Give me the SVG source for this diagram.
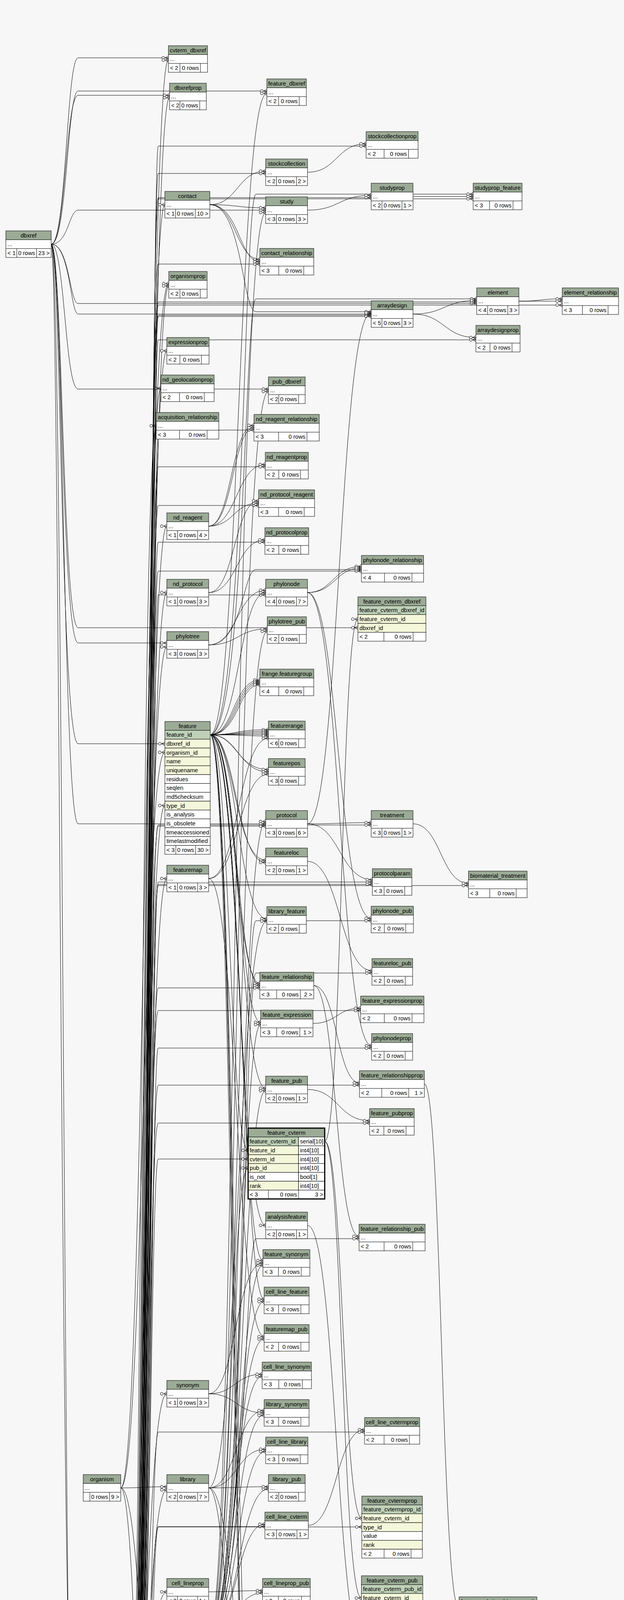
<svg xmlns="http://www.w3.org/2000/svg" width="1597" height="7985" viewBox="0 0 1597 7985">
<style>
text{font-family:"Liberation Sans",Arial,Helvetica,sans-serif;font-size:14.67px;fill:#000}
.c{text-anchor:middle}
.r{text-anchor:end}
.h{fill:#9bab96;stroke:#000}
.w{fill:#fff;stroke:#000}
.k{fill:#bed1b8;stroke:#000}
.i{fill:#f4f7da;stroke:#000}
.l{fill:none;stroke:#000}
#edges path{fill:none;stroke:#000;stroke-width:1;marker-end:url(#cf)}
</style>
<defs>
<marker id="cf" markerWidth="20" markerHeight="14" refX="19" refY="7" orient="auto" markerUnits="userSpaceOnUse" overflow="visible"><path d="M11 7L19 2M11 7L19 7M11 7L19 12" stroke="#000" fill="none"/><circle cx="6" cy="7" r="3.6" fill="#f7f7f7" stroke="#000"/></marker>
<marker id="ct" markerWidth="20" markerHeight="14" refX="19" refY="7" orient="auto" markerUnits="userSpaceOnUse" overflow="visible"><path d="M13 2L13 12" stroke="#000" stroke-width="2"/><circle cx="6" cy="7" r="3.6" fill="#f7f7f7" stroke="#000"/></marker>
</defs>
<rect width="1597" height="7985" fill="#f7f7f7"/>
<g id="edges">
<path d="M131 625C163 625 163 4995 196 4995" style="marker-end:url(#ct)"/>
<path d="M131 625C170 625 170 148 200 148L431 148"/>
<path d="M131 625C168 625 168 244 200 244L434 244"/>
<path d="M131 625C172 625 172 233 200 233L683 233"/>
<path d="M131 625C176 625 176 538 200 538L680 538"/>
<path d="M131 625C178 625 178 777 200 777L1220 777"/>
<path d="M131 625C180 625 180 804 200 804L950 804"/>
<path d="M131 625C166 625 166 996 200 996L687 996"/>
<path d="M131 625C160 625 160 1607 200 1607L916 1607"/>
<path d="M131 625C158 625 158 1646 200 1646L427 1646"/>
<path d="M131 625C156 625 156 1904 200 1904L422 1904"/>
<path d="M131 625C162 625 162 2109 200 2109L680 2109"/>
<path d="M131 625C154 625 154 4762 200 4762L427 4762"/>
<path d="M121 7803C158 7803 158 4927 196 4927"/>
<path d="M121 7803L433 7803"/>
<path d="M121 7803C280 7803 290 7896 433 7896"/>
<path d="M309 3809C366 3809 366 1926 422 1926"/>
<path d="M309 3809C370 3809 370 726 432 726"/>
<path d="M309 3809C370 3809 370 3806 427 3806"/>
<path d="M309 3809C368 3809 368 4768 427 4768"/>
<path d="M309 3809C374 3809 374 6748 405 6748L654 6748"/>
<path d="M326 4904C372 4904 372 154 431 154"/>
<path d="M326 4904C374 4904 374 250 434 250"/>
<path d="M326 4904C368 4904 368 524 422 524"/>
<path d="M326 4904C376 4904 376 732 432 732"/>
<path d="M326 4904C370 4904 370 898 427 898"/>
<path d="M326 4904C364 4904 364 994 412 994"/>
<path d="M326 4904C360 4904 360 1090 400 1090"/>
<path d="M326 4904C370 4904 370 1347 427 1347"/>
<path d="M326 4904C372 4904 372 1517 427 1517"/>
<path d="M326 4904C366 4904 366 1656 427 1656"/>
<path d="M326 4904C368 4904 368 2062 422 2062"/>
<path d="M326 4904C374 4904 374 2249 427 2249"/>
<path d="M326 4904C370 4904 370 3568 427 3568"/>
<path d="M326 4904C372 4904 372 3814 427 3814"/>
<path d="M326 4904C368 4904 368 4075 427 4075"/>
<path d="M326 4904C366 4904 366 4398 422 4398"/>
<path d="M326 4904C362 4904 362 4598 413 4598"/>
<path d="M326 4904C370 4904 370 4774 427 4774"/>
<path d="M326 4904C378 4904 378 4937 433 4937"/>
<path d="M326 4904C372 4904 372 5359 427 5359"/>
<path d="M326 4904C356 4904 356 5528 392 5528"/>
<path d="M326 4904C366 4904 366 5624 418 5624"/>
<path d="M326 4904C372 4904 372 5757 427 5757"/>
<path d="M326 4904C364 4904 364 5927 420 5927"/>
<path d="M326 4904C360 4904 360 6054 427 6054"/>
<path d="M326 4904C364 4904 364 6058 427 6058"/>
<path d="M326 4904C368 4904 368 6062 427 6062"/>
<path d="M326 4904C372 4904 372 6066 427 6066"/>
<path d="M326 4904C366 4904 366 6156 422 6156"/>
<path d="M326 4904C370 4904 370 6325 428 6325"/>
<path d="M326 4904C374 4904 374 6421 433 6421"/>
<path d="M326 4904C376 4904 376 6517 433 6517"/>
<path d="M326 4904C358 4904 358 6613 398 6613"/>
<path d="M326 4904C372 4904 372 6710 427 6710"/>
<path d="M326 4904C362 4904 362 6805 408 6805"/>
<path d="M326 4904C378 4904 378 6901 433 6901"/>
<path d="M326 4904C378 4904 378 6997 433 6997"/>
<path d="M326 4904C360 4904 360 7088 413 7088"/>
<path d="M326 4904C364 4904 364 7093 413 7093"/>
<path d="M326 4904C368 4904 368 7098 413 7098"/>
<path d="M326 4904C374 4904 374 7186 433 7186"/>
<path d="M326 4904C378 4904 378 7192 433 7192"/>
<path d="M326 4904C370 4904 370 7282 425 7282"/>
<path d="M326 4904C374 4904 374 7288 425 7288"/>
<path d="M326 4904C356 4904 356 7381 390 7381"/>
<path d="M326 4904C362 4904 362 7478 411 7478"/>
<path d="M326 4904C370 4904 370 7573 427 7573"/>
<path d="M326 4904C364 4904 364 7704 414 7704"/>
<path d="M326 4904C368 4904 368 7710 414 7710"/>
<path d="M326 4904C372 4904 372 7797 433 7797"/>
<path d="M326 4904C376 4904 376 7807 433 7807"/>
<path d="M326 4904C380 4904 380 7811 433 7811"/>
<path d="M326 4904C378 4904 378 7902 433 7902"/>
<path d="M326 4904C384 4904 384 444 405 444L680 444"/>
<path d="M326 4904C380 4904 380 676 405 676L665 676"/>
<path d="M326 4904C388 4904 388 1101 405 1101L650 1101"/>
<path d="M326 4904C376 4904 376 1195 405 1195L679 1195"/>
<path d="M326 4904C380 4904 380 1294 405 1294L662 1294"/>
<path d="M326 4904C384 4904 384 1388 405 1388L678 1388"/>
<path d="M326 4904C388 4904 388 1523 405 1523L680 1523"/>
<path d="M326 4904C376 4904 376 2115 405 2115L680 2115"/>
<path d="M326 4904C380 4904 380 2529 405 2529L665 2529"/>
<path d="M326 4904C384 4904 384 2967 405 2967L635 2967"/>
<path d="M326 4904C388 4904 388 3908 405 3908L678 3908"/>
<path d="M326 4904C376 4904 376 4622 405 4622L680 4622"/>
<path d="M326 4904C380 4904 380 4987 405 4987L671 4987"/>
<path d="M326 4904C384 4904 384 5080 405 5080L680 5080"/>
<path d="M326 4904C388 4904 388 5176 405 5176L680 5176"/>
<path d="M326 4904C376 4904 376 5409 405 5409L673 5409"/>
<path d="M326 4904C380 4904 380 5578 405 5578L684 5578"/>
<path d="M326 4904C384 4904 384 5770 405 5770L676 5770"/>
<path d="M326 4904C388 4904 388 5866 405 5866L680 5866"/>
<path d="M326 4904C376 4904 376 5959 405 5959L687 5959"/>
<path d="M326 4904C380 4904 380 6229 405 6229L660 6229"/>
<path d="M326 4904C384 4904 384 6321 405 6321L666 6321"/>
<path d="M326 4904C388 4904 388 6420 405 6420L687 6420"/>
<path d="M326 4904C376 4904 376 6513 405 6513L685 6513"/>
<path d="M326 4904C380 4904 380 6612 405 6612L681 6612"/>
<path d="M326 4904C384 4904 384 6839 405 6839L669 6839"/>
<path d="M326 4904C388 4904 388 7676 405 7676L654 7676"/>
<path d="M326 4904C386 4904 386 374 405 374L937 374"/>
<path d="M326 4904C382 4904 382 506 405 506L950 506"/>
<path d="M326 4904C378 4904 378 807 405 807L950 807"/>
<path d="M326 4904C386 4904 386 810 405 810L950 810"/>
<path d="M326 4904C382 4904 382 1462 405 1462L925 1462"/>
<path d="M326 4904C378 4904 378 2112 405 2112L950 2112"/>
<path d="M326 4904C386 4904 386 2258 405 2258L953 2258"/>
<path d="M326 4904C382 4904 382 2264 405 2264L953 2264"/>
<path d="M326 4904C378 4904 378 2587 405 2587L923 2587"/>
<path d="M326 4904C386 4904 386 2683 405 2683L951 2683"/>
<path d="M326 4904C382 4904 382 2778 405 2778L920 2778"/>
<path d="M326 4904C378 4904 378 2875 405 2875L946 2875"/>
<path d="M326 4904C386 4904 386 3666 405 3666L933 3666"/>
<path d="M326 4904C382 4904 382 3909 405 3909L926 3909"/>
<path d="M326 4904C378 4904 378 4247 405 4247L935 4247"/>
<path d="M326 4904C386 4904 386 5239 405 5239L915 5239"/>
<path d="M326 4904C382 4904 382 6011 405 6011L942 6011"/>
<path d="M326 4904C378 4904 378 6451 405 6451L915 6451"/>
<path d="M326 4904C386 4904 386 6746 405 6746L898 6746"/>
<path d="M326 4904C382 4904 382 509 405 509L1211 509"/>
<path d="M326 4904C378 4904 378 773 405 773L1220 773"/>
<path d="M326 4904C386 4904 386 870 405 870L1218 870"/>
<path d="M326 4904C382 4904 382 2267 405 2267L1199 2267"/>
<path d="M326 4904C378 4904 378 781 405 781L1439 781"/>
<path d="M538 1881C610 1881 610 239 683 239"/>
<path d="M538 1881C612 1881 612 1517 680 1517"/>
<path d="M538 1881C598 1881 598 1741 665 1741"/>
<path d="M538 1881C602 1881 602 1745 665 1745"/>
<path d="M538 1881C606 1881 606 1749 665 1749"/>
<path d="M538 1881C610 1881 610 1753 665 1753"/>
<path d="M538 1881C604 1881 604 1868 687 1868"/>
<path d="M538 1881C608 1881 608 1872 687 1872"/>
<path d="M538 1881C612 1881 612 1876 687 1876"/>
<path d="M538 1881C616 1881 616 1880 687 1880"/>
<path d="M538 1881C620 1881 620 1884 687 1884"/>
<path d="M538 1881C606 1881 606 1970 687 1970"/>
<path d="M538 1881C610 1881 610 1976 687 1976"/>
<path d="M538 1881C600 1881 600 2202 680 2202"/>
<path d="M538 1881C604 1881 604 2208 680 2208"/>
<path d="M538 1881C608 1881 608 2352 683 2352"/>
<path d="M538 1881C602 1881 602 2517 665 2517"/>
<path d="M538 1881C606 1881 606 2523 665 2523"/>
<path d="M538 1881C610 1881 610 2617 667 2617"/>
<path d="M538 1881C614 1881 614 2786 680 2786"/>
<path d="M538 1881C588 1881 588 2945 635 2945"/>
<path d="M538 1881C612 1881 612 3137 680 3137"/>
<path d="M538 1881C616 1881 616 3227 673 3227"/>
<path d="M538 1881C620 1881 620 3326 676 3326"/>
<path d="M538 1881C606 1881 606 5170 680 5170"/>
<path d="M538 1881C600 1881 600 5397 673 5397"/>
<path d="M538 1881C604 1881 604 5401 673 5401"/>
<path d="M538 1881C608 1881 608 5665 669 5665"/>
<path d="M538 1881C624 1881 624 497 655 497L1211 497"/>
<path d="M538 1881C626 1881 626 765 655 765L1220 765"/>
<path d="M537 4171C600 4171 600 544 680 544"/>
<path d="M537 4171C604 4171 604 1002 687 1002"/>
<path d="M537 4171C608 4171 608 1616 684 1616"/>
<path d="M537 4171C612 4171 612 2103 680 2103"/>
<path d="M537 4171C616 4171 616 2623 667 2623"/>
<path d="M537 4171C620 4171 620 2792 680 2792"/>
<path d="M537 4171C590 4171 590 2990 635 2990"/>
<path d="M537 4171C612 4171 612 3239 673 3239"/>
<path d="M537 4171C608 4171 608 3332 676 3332"/>
<path d="M537 4171C604 4171 604 3428 676 3428"/>
<path d="M537 4171C600 4171 600 3524 671 3524"/>
<path d="M537 4171C604 4171 604 3623 676 3623"/>
<path d="M537 4171C608 4171 608 3716 680 3716"/>
<path d="M537 4171C612 4171 612 3812 687 3812"/>
<path d="M537 4171C606 4171 606 3902 678 3902"/>
<path d="M537 4171C604 4171 604 4078 672 4078"/>
<path d="M537 4171C608 4171 608 4244 679 4244"/>
<path d="M537 4171C612 4171 612 4377 687 4377"/>
<path d="M537 4171C610 4171 610 4752 687 4752"/>
<path d="M537 4171C614 4171 614 4888 687 4888"/>
<path d="M537 4171C612 4171 612 5306 687 5306"/>
<path d="M537 4171C616 4171 616 5572 684 5572"/>
<path d="M537 4171C602 4171 602 5758 676 5758"/>
<path d="M537 4171C606 4171 606 5764 676 5764"/>
<path d="M537 4171C610 4171 610 5860 680 5860"/>
<path d="M537 4171C614 4171 614 5953 687 5953"/>
<path d="M537 4171C604 4171 604 6092 665 6092"/>
<path d="M537 4171C612 4171 612 6414 687 6414"/>
<path d="M537 4171C608 4171 608 6608 681 6608"/>
<path d="M537 4171C600 4171 600 6744 654 6744"/>
<path d="M537 4171C622 4171 622 2357 655 2357L950 2357"/>
<path d="M537 4171C624 4171 624 2491 655 2491L952 2491"/>
<path d="M537 4171C626 4171 626 3171 655 3171L919 3171"/>
<path d="M537 4171C628 4171 628 4113 655 4113L925 4113"/>
<path d="M537 4171C630 4171 630 4411 655 4411L925 4411"/>
<path d="M537 4171C626 4171 626 4588 655 4588L949 4588"/>
<path d="M537 4171C624 4171 624 4803 655 4803L951 4803"/>
<path d="M537 4171C622 4171 622 4983 655 4983L946 4983"/>
<path d="M537 4171C628 4171 628 5245 655 5245L915 5245"/>
<path d="M537 4171C630 4171 630 6734 655 6734L898 6734"/>
<path d="M537 4171C632 4171 632 4125 655 4125L1175 4125"/>
<path d="M537 524C608 524 608 438 680 438"/>
<path d="M537 524C608 524 608 532 680 532"/>
<path d="M537 524C604 524 604 664 665 664"/>
<path d="M537 524C612 524 612 670 665 670"/>
<path d="M537 524C620 524 620 798 655 798L950 798"/>
<path d="M534 1347C592 1347 592 1089 650 1089"/>
<path d="M534 1347C596 1347 596 1095 650 1095"/>
<path d="M534 1347C606 1347 606 1189 679 1189"/>
<path d="M534 1347C598 1347 598 1288 662 1288"/>
<path d="M534 1517C600 1517 600 1282 662 1282"/>
<path d="M534 1517C606 1517 606 1382 678 1382"/>
<path d="M534 1651C607 1651 607 1511 680 1511"/>
<path d="M534 1651C609 1651 609 1610 684 1610"/>
<path d="M534 1651C622 1651 622 1458 655 1458L925 1458"/>
<path d="M534 2249C610 2249 610 1890 687 1890"/>
<path d="M534 2249C610 2249 610 1982 687 1982"/>
<path d="M534 2249C605 2249 605 3422 676 3422"/>
<path d="M534 3568C603 3568 603 3233 673 3233"/>
<path d="M534 3568C602 3568 602 3518 671 3518"/>
<path d="M534 3568C605 3568 605 3617 676 3617"/>
<path d="M534 3809C608 3809 608 2358 683 2358"/>
<path d="M534 3809C605 3809 605 3611 676 3611"/>
<path d="M534 3809C607 3809 607 3710 680 3710"/>
<path d="M534 3809C610 3809 610 3806 687 3806"/>
<path d="M534 3809C607 3809 607 4616 680 4616"/>
<path d="M534 3809C609 3809 609 5566 684 5566"/>
<path d="M534 4075C603 4075 603 4072 672 4072"/>
<path d="M534 4768C610 4768 610 4882 687 4882"/>
<path d="M534 4768C600 4768 600 4975 671 4975"/>
<path d="M534 4768C604 4768 604 4981 671 4981"/>
<path d="M534 4768C607 4768 607 5074 680 5074"/>
<path d="M534 4768C607 4768 607 5854 680 5854"/>
<path d="M534 4768C597 4768 597 6223 660 6223"/>
<path d="M534 5359C600 5359 600 6086 665 6086"/>
<path d="M534 5359C597 5359 597 6217 660 6217"/>
<path d="M534 5359C600 5359 600 6315 666 6315"/>
<path d="M534 5757C603 5757 603 5405 673 5405"/>
<path d="M534 5757C610 5757 610 6408 687 6408"/>
<path d="M534 5757C610 5757 610 6507 685 6507"/>
<path d="M534 5757C607 5757 607 6600 681 6600"/>
<path d="M534 5757C594 5757 594 6728 654 6728"/>
<path d="M534 5757C598 5757 598 6732 654 6732"/>
<path d="M534 6060C601 6060 601 5671 669 5671"/>
<path d="M534 6060C607 6060 607 6604 681 6604"/>
<path d="M534 6060C590 6060 590 6736 654 6736"/>
<path d="M534 6060C596 6060 596 6740 654 6740"/>
<path d="M534 6060C601 6060 601 6833 669 6833"/>
<path d="M545 7707C600 7707 600 7670 654 7670"/>
<path d="M787 441C862 441 862 368 937 368"/>
<path d="M787 538C868 538 868 500 950 500"/>
<path d="M787 1517C852 1517 852 1450 925 1450"/>
<path d="M787 1517C858 1517 858 1454 925 1454"/>
<path d="M787 1517C866 1517 866 2351 950 2351"/>
<path d="M787 1517C870 1517 870 2677 951 2677"/>
<path d="M787 2109C868 2109 868 801 950 801"/>
<path d="M787 2109C868 2109 868 2106 950 2106"/>
<path d="M787 2109C870 2109 870 2252 953 2252"/>
<path d="M787 2205C870 2205 870 2485 952 2485"/>
<path d="M803 2523C862 2523 862 2772 920 2772"/>
<path d="M803 2523C860 2523 860 3165 919 3165"/>
<path d="M801 2620C862 2620 862 2581 923 2581"/>
<path d="M787 2789C866 2789 866 2869 946 2869"/>
<path d="M831 2922C874 2922 874 1585 916 1585"/>
<path d="M831 2922C878 2922 878 3887 926 3887"/>
<path d="M831 2922C876 2922 876 4091 925 4091"/>
<path d="M787 3137C861 3137 861 4241 935 4241"/>
<path d="M789 3905C861 3905 861 3660 933 3660"/>
<path d="M787 4619C868 4619 868 4582 949 4582"/>
<path d="M796 4981C860 4981 860 4405 925 4405"/>
<path d="M796 4981C855 4981 855 5233 915 5233"/>
<path d="M787 5077C869 5077 869 4797 951 4797"/>
<path d="M787 5173C866 5173 866 4977 946 4977"/>
<path d="M787 5860C864 5860 864 6005 942 6005"/>
<path d="M807 6223C861 6223 861 6445 915 6445"/>
<path d="M813 6740L898 6740"/>
<path d="M1057 503L1211 503"/>
<path d="M1057 804C1138 804 1138 769 1220 769"/>
<path d="M1057 804C1137 804 1137 864 1218 864"/>
<path d="M1057 2109C1128 2109 1128 2261 1199 2261"/>
<path d="M1086 2775C1130 2775 1130 4119 1175 4119"/>
<path d="M1328 771C1383 771 1383 765 1439 765"/>
<path d="M1328 771C1390 771 1390 771 1439 771"/>
</g>
<g id="nodes">
<g id="dbxref" transform="translate(15,591)"><rect class="h" width="116" height="22.7"/><rect class="w" y="22.7" width="116" height="45.3"/><path class="l" d="M0 45.3H116M28 45.3V68M78.6 45.3V68"/><text class="c" x="58" y="16.5">dbxref</text><text x="4" y="39">...</text><text x="4" y="62">&lt; 1</text><text class="r" x="74.6" y="62">0 rows</text><text class="r" x="112" y="62">23 &gt;</text></g>
<g id="cv" transform="translate(27,7769)"><rect class="h" width="94" height="22.7"/><rect class="w" y="22.7" width="94" height="45.3"/><path class="l" d="M0 45.3H94M16 45.3V68M66.5 45.3V68"/><text class="c" x="47" y="16.5">cv</text><text x="4" y="39">...</text><text class="r" x="62.5" y="62">0 rows</text><text class="r" x="90" y="62">3 &gt;</text></g>
<g id="organism" transform="translate(213,3775)"><rect class="h" width="96" height="22.7"/><rect class="w" y="22.7" width="96" height="45.3"/><path class="l" d="M0 45.3H96M17 45.3V68M67.5 45.3V68"/><text class="c" x="48" y="16.5">organism</text><text x="4" y="39">...</text><text class="r" x="63.5" y="62">0 rows</text><text class="r" x="92" y="62">9 &gt;</text></g>
<g id="cvterm" transform="translate(196,4870)"><rect class="h" width="130" height="22.7"/><rect class="k" y="22.7" width="130" height="22.7"/><rect class="i" y="45.3" width="130" height="22.7"/><rect class="i" y="68" width="130" height="22.7"/><rect class="w" y="90.7" width="130" height="22.7"/><rect class="i" y="113.3" width="130" height="22.7"/><rect class="i" y="136" width="130" height="22.7"/><rect class="w" y="158.7" width="130" height="22.7"/><rect class="w" y="181.3" width="130" height="22.7"/><path class="l" d="M31 181.3V204M83 181.3V204"/><text class="c" x="65" y="16.5">cvterm</text><text x="4" y="39.2">cvterm_id</text><text x="4" y="61.8">cv_id</text><text x="4" y="84.5">name</text><text x="4" y="107.2">definition</text><text x="4" y="129.8">dbxref_id</text><text x="4" y="152.5">is_obsolete</text><text x="4" y="175.2">is_relationshiptype</text><text x="4" y="197.8">&lt; 2</text><text class="r" x="79" y="197.8">0 rows</text><text class="r" x="126" y="197.8">104 &gt;</text></g>
<g id="cvterm_dbxref" transform="translate(431,117)"><rect class="h" width="100" height="22.7"/><rect class="w" y="22.7" width="100" height="45.3"/><path class="l" d="M0 45.3H100M29.5 45.3V68M82 45.3V68"/><text class="c" x="50" y="16.5">cvterm_dbxref</text><text x="4" y="39">...</text><text x="4" y="62">&lt; 2</text><text class="r" x="78" y="62">0 rows</text></g>
<g id="dbxrefprop" transform="translate(434,213)"><rect class="h" width="94" height="22.7"/><rect class="w" y="22.7" width="94" height="45.3"/><path class="l" d="M0 45.3H94M26.5 45.3V68M77.2 45.3V68"/><text class="c" x="47" y="16.5">dbxrefprop</text><text x="4" y="39">...</text><text x="4" y="62">&lt; 2</text><text class="r" x="73.2" y="62">0 rows</text></g>
<g id="contact" transform="translate(422,490)"><rect class="h" width="115" height="22.7"/><rect class="w" y="22.7" width="115" height="45.3"/><path class="l" d="M0 45.3H115M27.5 45.3V68M77.8 45.3V68"/><text class="c" x="57.5" y="16.5">contact</text><text x="4" y="39">...</text><text x="4" y="62">&lt; 1</text><text class="r" x="73.8" y="62">0 rows</text><text class="r" x="111" y="62">10 &gt;</text></g>
<g id="organismprop" transform="translate(432,695)"><rect class="h" width="98" height="22.7"/><rect class="w" y="22.7" width="98" height="45.3"/><path class="l" d="M0 45.3H98M28.5 45.3V68M80.4 45.3V68"/><text class="c" x="49" y="16.5">organismprop</text><text x="4" y="39">...</text><text x="4" y="62">&lt; 2</text><text class="r" x="76.4" y="62">0 rows</text></g>
<g id="expressionprop" transform="translate(427,864)"><rect class="h" width="108" height="22.7"/><rect class="w" y="22.7" width="108" height="45.3"/><path class="l" d="M0 45.3H108M33.5 45.3V68M88.4 45.3V68"/><text class="c" x="54" y="16.5">expressionprop</text><text x="4" y="39">...</text><text x="4" y="62">&lt; 2</text><text class="r" x="84.4" y="62">0 rows</text></g>
<g id="nd_geolocationprop" transform="translate(412,960)"><rect class="h" width="136" height="22.7"/><rect class="w" y="22.7" width="136" height="45.3"/><path class="l" d="M0 45.3H136M47.5 45.3V68M110.8 45.3V68"/><text class="c" x="68" y="16.5">nd_geolocationprop</text><text x="4" y="39">...</text><text x="4" y="62">&lt; 2</text><text class="r" x="106.8" y="62">0 rows</text></g>
<g id="acquisition_relationship" transform="translate(400,1056)"><rect class="h" width="160" height="22.7"/><rect class="w" y="22.7" width="160" height="45.3"/><path class="l" d="M0 45.3H160M59.5 45.3V68M130 45.3V68"/><text class="c" x="80" y="16.5">acquisition_relationship</text><text x="4" y="39">...</text><text x="4" y="62">&lt; 3</text><text class="r" x="126" y="62">0 rows</text></g>
<g id="nd_reagent" transform="translate(427,1313)"><rect class="h" width="107" height="22.7"/><rect class="w" y="22.7" width="107" height="45.3"/><path class="l" d="M0 45.3H107M27.5 45.3V68M78.8 45.3V68"/><text class="c" x="53.5" y="16.5">nd_reagent</text><text x="4" y="39">...</text><text x="4" y="62">&lt; 1</text><text class="r" x="74.8" y="62">0 rows</text><text class="r" x="103" y="62">4 &gt;</text></g>
<g id="nd_protocol" transform="translate(427,1483)"><rect class="h" width="107" height="22.7"/><rect class="w" y="22.7" width="107" height="45.3"/><path class="l" d="M0 45.3H107M27.5 45.3V68M78.8 45.3V68"/><text class="c" x="53.5" y="16.5">nd_protocol</text><text x="4" y="39">...</text><text x="4" y="62">&lt; 1</text><text class="r" x="74.8" y="62">0 rows</text><text class="r" x="103" y="62">3 &gt;</text></g>
<g id="phylotree" transform="translate(427,1617)"><rect class="h" width="107" height="22.7"/><rect class="w" y="22.7" width="107" height="45.3"/><path class="l" d="M0 45.3H107M27.5 45.3V68M78.8 45.3V68"/><text class="c" x="53.5" y="16.5">phylotree</text><text x="4" y="39">...</text><text x="4" y="62">&lt; 3</text><text class="r" x="74.8" y="62">0 rows</text><text class="r" x="103" y="62">3 &gt;</text></g>
<g id="feature" transform="translate(422,1847)"><rect class="h" width="116" height="22.7"/><rect class="k" y="22.7" width="116" height="22.7"/><rect class="i" y="45.3" width="116" height="22.7"/><rect class="i" y="68" width="116" height="22.7"/><rect class="i" y="90.7" width="116" height="22.7"/><rect class="i" y="113.3" width="116" height="22.7"/><rect class="w" y="136" width="116" height="22.7"/><rect class="w" y="158.7" width="116" height="22.7"/><rect class="w" y="181.3" width="116" height="22.7"/><rect class="i" y="204" width="116" height="22.7"/><rect class="w" y="226.7" width="116" height="22.7"/><rect class="w" y="249.3" width="116" height="22.7"/><rect class="w" y="272" width="116" height="22.7"/><rect class="w" y="294.7" width="116" height="22.7"/><rect class="w" y="317.3" width="116" height="22.7"/><path class="l" d="M28 317.3V340M78.6 317.3V340"/><text class="c" x="58" y="16.5">feature</text><text x="4" y="39.2">feature_id</text><text x="4" y="61.8">dbxref_id</text><text x="4" y="84.5">organism_id</text><text x="4" y="107.2">name</text><text x="4" y="129.8">uniquename</text><text x="4" y="152.5">residues</text><text x="4" y="175.2">seqlen</text><text x="4" y="197.8">md5checksum</text><text x="4" y="220.5">type_id</text><text x="4" y="243.2">is_analysis</text><text x="4" y="265.8">is_obsolete</text><text x="4" y="288.5">timeaccessioned</text><text x="4" y="311.2">timelastmodified</text><text x="4" y="333.8">&lt; 3</text><text class="r" x="74.6" y="333.8">0 rows</text><text class="r" x="112" y="333.8">30 &gt;</text></g>
<g id="featuremap" transform="translate(427,2215)"><rect class="h" width="107" height="22.7"/><rect class="w" y="22.7" width="107" height="45.3"/><path class="l" d="M0 45.3H107M27.5 45.3V68M78.8 45.3V68"/><text class="c" x="53.5" y="16.5">featuremap</text><text x="4" y="39">...</text><text x="4" y="62">&lt; 1</text><text class="r" x="74.8" y="62">0 rows</text><text class="r" x="103" y="62">3 &gt;</text></g>
<g id="synonym" transform="translate(427,3534)"><rect class="h" width="107" height="22.7"/><rect class="w" y="22.7" width="107" height="45.3"/><path class="l" d="M0 45.3H107M27.5 45.3V68M78.8 45.3V68"/><text class="c" x="53.5" y="16.5">synonym</text><text x="4" y="39">...</text><text x="4" y="62">&lt; 1</text><text class="r" x="74.8" y="62">0 rows</text><text class="r" x="103" y="62">3 &gt;</text></g>
<g id="library" transform="translate(427,3775)"><rect class="h" width="107" height="22.7"/><rect class="w" y="22.7" width="107" height="45.3"/><path class="l" d="M0 45.3H107M27.5 45.3V68M78.8 45.3V68"/><text class="c" x="53.5" y="16.5">library</text><text x="4" y="39">...</text><text x="4" y="62">&lt; 2</text><text class="r" x="74.8" y="62">0 rows</text><text class="r" x="103" y="62">7 &gt;</text></g>
<g id="cell_lineprop" transform="translate(427,4041)"><rect class="h" width="107" height="22.7"/><rect class="w" y="22.7" width="107" height="45.3"/><path class="l" d="M0 45.3H107M27.5 45.3V68M78.8 45.3V68"/><text class="c" x="53.5" y="16.5">cell_lineprop</text><text x="4" y="39">...</text><text x="4" y="62">&lt; 2</text><text class="r" x="74.8" y="62">0 rows</text><text class="r" x="103" y="62">1 &gt;</text></g>
<g id="pub" transform="translate(422,4137)"><rect class="h" width="115" height="22.7"/><rect class="k" y="22.7" width="115" height="22.7"/><rect class="w" y="45.3" width="115" height="22.7"/><rect class="w" y="68" width="115" height="22.7"/><rect class="w" y="90.7" width="115" height="22.7"/><rect class="w" y="113.3" width="115" height="22.7"/><rect class="w" y="136" width="115" height="22.7"/><rect class="w" y="158.7" width="115" height="22.7"/><rect class="w" y="181.3" width="115" height="22.7"/><rect class="w" y="204" width="115" height="22.7"/><rect class="i" y="226.7" width="115" height="22.7"/><rect class="i" y="249.3" width="115" height="22.7"/><rect class="w" y="272" width="115" height="22.7"/><rect class="w" y="294.7" width="115" height="22.7"/><rect class="w" y="317.3" width="115" height="22.7"/><rect class="w" y="340" width="115" height="22.7"/><path class="l" d="M27.5 340V362.7M77.8 340V362.7"/><text class="c" x="57.5" y="16.5">pub</text><text x="4" y="39.2">pub_id</text><text x="4" y="61.8">title</text><text x="4" y="84.5">volumetitle</text><text x="4" y="107.2">volume</text><text x="4" y="129.8">series_name</text><text x="4" y="152.5">issue</text><text x="4" y="175.2">pyear</text><text x="4" y="197.8">pages</text><text x="4" y="220.5">miniref</text><text x="4" y="243.2">uniquename</text><text x="4" y="265.8">type_id</text><text x="4" y="288.5">is_obsolete</text><text x="4" y="311.2">publisher</text><text x="4" y="333.8">pubplace</text><text x="4" y="356.5">&lt; 1</text><text class="r" x="73.8" y="356.5">0 rows</text><text class="r" x="111" y="356.5">41 &gt;</text></g>
<g id="project_relationship" transform="translate(413,4564)"><rect class="h" width="135" height="22.7"/><rect class="w" y="22.7" width="135" height="45.3"/><path class="l" d="M0 45.3H135M47 45.3V68M110 45.3V68"/><text class="c" x="67.5" y="16.5">project_relationship</text><text x="4" y="39">...</text><text x="4" y="62">&lt; 3</text><text class="r" x="106" y="62">0 rows</text></g>
<g id="stock" transform="translate(427,4734)"><rect class="h" width="107" height="22.7"/><rect class="w" y="22.7" width="107" height="45.3"/><path class="l" d="M0 45.3H107M27.5 45.3V68M78.8 45.3V68"/><text class="c" x="53.5" y="16.5">stock</text><text x="4" y="39">...</text><text x="4" y="62">&lt; 3</text><text class="r" x="74.8" y="62">0 rows</text><text class="r" x="103" y="62">9 &gt;</text></g>
<g id="projectprop" transform="translate(433,4903)"><rect class="h" width="95" height="22.7"/><rect class="w" y="22.7" width="95" height="45.3"/><path class="l" d="M0 45.3H95M27 45.3V68M78 45.3V68"/><text class="c" x="47.5" y="16.5">projectprop</text><text x="4" y="39">...</text><text x="4" y="62">&lt; 2</text><text class="r" x="74" y="62">0 rows</text></g>
<g id="nd_experiment" transform="translate(427,5325)"><rect class="h" width="107" height="22.7"/><rect class="w" y="22.7" width="107" height="45.3"/><path class="l" d="M0 45.3H107M27.5 45.3V68M78.8 45.3V68"/><text class="c" x="53.5" y="16.5">nd_experiment</text><text x="4" y="39">...</text><text x="4" y="62">&lt; 2</text><text class="r" x="74.8" y="62">0 rows</text><text class="r" x="103" y="62">9 &gt;</text></g>
<g id="quantification_relationship" transform="translate(392,5494)"><rect class="h" width="177" height="22.7"/><rect class="w" y="22.7" width="177" height="45.3"/><path class="l" d="M0 45.3H177M68 45.3V68M143.6 45.3V68"/><text class="c" x="88.5" y="16.5">quantification_relationship</text><text x="4" y="39">...</text><text x="4" y="62">&lt; 3</text><text class="r" x="139.6" y="62">0 rows</text></g>
<g id="quantificationprop" transform="translate(418,5590)"><rect class="h" width="123" height="22.7"/><rect class="w" y="22.7" width="123" height="45.3"/><path class="l" d="M0 45.3H123M41 45.3V68M100.4 45.3V68"/><text class="c" x="61.5" y="16.5">quantificationprop</text><text x="4" y="39">...</text><text x="4" y="62">&lt; 2</text><text class="r" x="96.4" y="62">0 rows</text></g>
<g id="genotype" transform="translate(427,5723)"><rect class="h" width="107" height="22.7"/><rect class="w" y="22.7" width="107" height="45.3"/><path class="l" d="M0 45.3H107M27.5 45.3V68M78.8 45.3V68"/><text class="c" x="53.5" y="16.5">genotype</text><text x="4" y="39">...</text><text x="4" y="62">&lt; 1</text><text class="r" x="74.8" y="62">0 rows</text><text class="r" x="103" y="62">8 &gt;</text></g>
<g id="stock_dbxrefprop" transform="translate(420,5893)"><rect class="h" width="120" height="22.7"/><rect class="w" y="22.7" width="120" height="45.3"/><path class="l" d="M0 45.3H120M39.5 45.3V68M98 45.3V68"/><text class="c" x="60" y="16.5">stock_dbxrefprop</text><text x="4" y="39">...</text><text x="4" y="62">&lt; 2</text><text class="r" x="94" y="62">0 rows</text></g>
<g id="phenotype" transform="translate(427,6026)"><rect class="h" width="107" height="22.7"/><rect class="w" y="22.7" width="107" height="45.3"/><path class="l" d="M0 45.3H107M27.5 45.3V68M78.8 45.3V68"/><text class="c" x="53.5" y="16.5">phenotype</text><text x="4" y="39">...</text><text x="4" y="62">&lt; 4</text><text class="r" x="74.8" y="62">0 rows</text><text class="r" x="103" y="62">6 &gt;</text></g>
<g id="studydesignprop" transform="translate(422,6122)"><rect class="h" width="115" height="22.7"/><rect class="w" y="22.7" width="115" height="45.3"/><path class="l" d="M0 45.3H115M37 45.3V68M94 45.3V68"/><text class="c" x="57.5" y="16.5">studydesignprop</text><text x="4" y="39">...</text><text x="4" y="62">&lt; 2</text><text class="r" x="90" y="62">0 rows</text></g>
<g id="acquisitionprop" transform="translate(428,6291)"><rect class="h" width="106" height="22.7"/><rect class="w" y="22.7" width="106" height="45.3"/><path class="l" d="M0 45.3H106M32.5 45.3V68M86.8 45.3V68"/><text class="c" x="53" y="16.5">acquisitionprop</text><text x="4" y="39">...</text><text x="4" y="62">&lt; 2</text><text class="r" x="82.8" y="62">0 rows</text></g>
<g id="analysisprop" transform="translate(433,6387)"><rect class="h" width="95" height="22.7"/><rect class="w" y="22.7" width="95" height="45.3"/><path class="l" d="M0 45.3H95M27 45.3V68M78 45.3V68"/><text class="c" x="47.5" y="16.5">analysisprop</text><text x="4" y="39">...</text><text x="4" y="62">&lt; 2</text><text class="r" x="74" y="62">0 rows</text></g>
<g id="assayprop" transform="translate(433,6483)"><rect class="h" width="95" height="22.7"/><rect class="w" y="22.7" width="95" height="45.3"/><path class="l" d="M0 45.3H95M27 45.3V68M78 45.3V68"/><text class="c" x="47.5" y="16.5">assayprop</text><text x="4" y="39">...</text><text x="4" y="62">&lt; 2</text><text class="r" x="74" y="62">0 rows</text></g>
<g id="biomaterial_relationship" transform="translate(398,6579)"><rect class="h" width="163" height="22.7"/><rect class="w" y="22.7" width="163" height="45.3"/><path class="l" d="M0 45.3H163M61 45.3V68M132.4 45.3V68"/><text class="c" x="81.5" y="16.5">biomaterial_relationship</text><text x="4" y="39">...</text><text x="4" y="62">&lt; 3</text><text class="r" x="128.4" y="62">0 rows</text></g>
<g id="biomaterialprop" transform="translate(427,6676)"><rect class="h" width="108" height="22.7"/><rect class="w" y="22.7" width="108" height="45.3"/><path class="l" d="M0 45.3H108M33.5 45.3V68M88.4 45.3V68"/><text class="c" x="54" y="16.5">biomaterialprop</text><text x="4" y="39">...</text><text x="4" y="62">&lt; 2</text><text class="r" x="84.4" y="62">0 rows</text></g>
<g id="cell_line_relationship" transform="translate(408,6771)"><rect class="h" width="144" height="22.7"/><rect class="w" y="22.7" width="144" height="45.3"/><path class="l" d="M0 45.3H144M51.5 45.3V68M117.2 45.3V68"/><text class="c" x="72" y="16.5">cell_line_relationship</text><text x="4" y="39">...</text><text x="4" y="62">&lt; 3</text><text class="r" x="113.2" y="62">0 rows</text></g>
<g id="chadoprop" transform="translate(433,6867)"><rect class="h" width="95" height="22.7"/><rect class="w" y="22.7" width="95" height="45.3"/><path class="l" d="M0 45.3H95M27 45.3V68M78 45.3V68"/><text class="c" x="47.5" y="16.5">chadoprop</text><text x="4" y="39">...</text><text x="4" y="62">&lt; 1</text><text class="r" x="74" y="62">0 rows</text></g>
<g id="control" transform="translate(433,6963)"><rect class="h" width="95" height="22.7"/><rect class="w" y="22.7" width="95" height="45.3"/><path class="l" d="M0 45.3H95M27 45.3V68M78 45.3V68"/><text class="c" x="47.5" y="16.5">control</text><text x="4" y="39">...</text><text x="4" y="62">&lt; 3</text><text class="r" x="74" y="62">0 rows</text></g>
<g id="cvterm_relationship" transform="translate(413,7059)"><rect class="h" width="135" height="22.7"/><rect class="w" y="22.7" width="135" height="45.3"/><path class="l" d="M0 45.3H135M47 45.3V68M110 45.3V68"/><text class="c" x="67.5" y="16.5">cvterm_relationship</text><text x="4" y="39">...</text><text x="4" y="62">&lt; 3</text><text class="r" x="106" y="62">0 rows</text></g>
<g id="cvtermprop" transform="translate(433,7155)"><rect class="h" width="95" height="22.7"/><rect class="w" y="22.7" width="95" height="45.3"/><path class="l" d="M0 45.3H95M27 45.3V68M78 45.3V68"/><text class="c" x="47.5" y="16.5">cvtermprop</text><text x="4" y="39">...</text><text x="4" y="62">&lt; 2</text><text class="r" x="74" y="62">0 rows</text></g>
<g id="cvtermsynonym" transform="translate(425,7251)"><rect class="h" width="111" height="22.7"/><rect class="w" y="22.7" width="111" height="45.3"/><path class="l" d="M0 45.3H111M35 45.3V68M90.8 45.3V68"/><text class="c" x="55.5" y="16.5">cvtermsynonym</text><text x="4" y="39">...</text><text x="4" y="62">&lt; 2</text><text class="r" x="86.8" y="62">0 rows</text></g>
<g id="elementresult_relationship" transform="translate(390,7347)"><rect class="h" width="179" height="22.7"/><rect class="w" y="22.7" width="179" height="45.3"/><path class="l" d="M0 45.3H179M69 45.3V68M145.2 45.3V68"/><text class="c" x="89.5" y="16.5">elementresult_relationship</text><text x="4" y="39">...</text><text x="4" y="62">&lt; 3</text><text class="r" x="141.2" y="62">0 rows</text></g>
<g id="environment_cvterm" transform="translate(411,7444)"><rect class="h" width="140" height="22.7"/><rect class="w" y="22.7" width="140" height="45.3"/><path class="l" d="M0 45.3H140M49.5 45.3V68M114 45.3V68"/><text class="c" x="70" y="16.5">environment_cvterm</text><text x="4" y="39">...</text><text x="4" y="62">&lt; 2</text><text class="r" x="110" y="62">0 rows</text></g>
<g id="studyfactor" transform="translate(427,7539)"><rect class="h" width="107" height="22.7"/><rect class="w" y="22.7" width="107" height="45.3"/><path class="l" d="M0 45.3H107M27.5 45.3V68M78.8 45.3V68"/><text class="c" x="53.5" y="16.5">studyfactor</text><text x="4" y="39">...</text><text x="4" y="62">&lt; 2</text><text class="r" x="74.8" y="62">0 rows</text><text class="r" x="103" y="62">1 &gt;</text></g>
<g id="expression_cvterm" transform="translate(414,7673)"><rect class="h" width="131" height="22.7"/><rect class="w" y="22.7" width="131" height="45.3"/><path class="l" d="M0 45.3H131M39.5 45.3V68M98 45.3V68"/><text class="c" x="65.5" y="16.5">expression_cvterm</text><text x="4" y="39">...</text><text x="4" y="62">&lt; 3</text><text class="r" x="94" y="62">0 rows</text><text class="r" x="127" y="62">1 &gt;</text></g>
<g id="cvtermpath" transform="translate(433,7769)"><rect class="h" width="95" height="22.7"/><rect class="w" y="22.7" width="95" height="45.3"/><path class="l" d="M0 45.3H95M27 45.3V68M78 45.3V68"/><text class="c" x="47.5" y="16.5">cvtermpath</text><text x="4" y="39">...</text><text x="4" y="62">&lt; 4</text><text class="r" x="74" y="62">0 rows</text></g>
<g id="cvprop" transform="translate(433,7865)"><rect class="h" width="95" height="22.7"/><rect class="w" y="22.7" width="95" height="45.3"/><path class="l" d="M0 45.3H95M27 45.3V68M78 45.3V68"/><text class="c" x="47.5" y="16.5">cvprop</text><text x="4" y="39">...</text><text x="4" y="62">&lt; 2</text><text class="r" x="74" y="62">0 rows</text></g>
<g id="feature_dbxref" transform="translate(683,202)"><rect class="h" width="101" height="22.7"/><rect class="w" y="22.7" width="101" height="45.3"/><path class="l" d="M0 45.3H101M30 45.3V68M82.8 45.3V68"/><text class="c" x="50.5" y="16.5">feature_dbxref</text><text x="4" y="39">...</text><text x="4" y="62">&lt; 2</text><text class="r" x="78.8" y="62">0 rows</text></g>
<g id="stockcollection" transform="translate(680,407)"><rect class="h" width="107" height="22.7"/><rect class="w" y="22.7" width="107" height="45.3"/><path class="l" d="M0 45.3H107M27.5 45.3V68M78.8 45.3V68"/><text class="c" x="53.5" y="16.5">stockcollection</text><text x="4" y="39">...</text><text x="4" y="62">&lt; 2</text><text class="r" x="74.8" y="62">0 rows</text><text class="r" x="103" y="62">2 &gt;</text></g>
<g id="study" transform="translate(680,504)"><rect class="h" width="107" height="22.7"/><rect class="w" y="22.7" width="107" height="45.3"/><path class="l" d="M0 45.3H107M27.5 45.3V68M78.8 45.3V68"/><text class="c" x="53.5" y="16.5">study</text><text x="4" y="39">...</text><text x="4" y="62">&lt; 3</text><text class="r" x="74.8" y="62">0 rows</text><text class="r" x="103" y="62">3 &gt;</text></g>
<g id="contact_relationship" transform="translate(665,636)"><rect class="h" width="138" height="22.7"/><rect class="w" y="22.7" width="138" height="45.3"/><path class="l" d="M0 45.3H138M48.5 45.3V68M112.4 45.3V68"/><text class="c" x="69" y="16.5">contact_relationship</text><text x="4" y="39">...</text><text x="4" y="62">&lt; 3</text><text class="r" x="108.4" y="62">0 rows</text></g>
<g id="pub_dbxref" transform="translate(687,965)"><rect class="h" width="94" height="22.7"/><rect class="w" y="22.7" width="94" height="45.3"/><path class="l" d="M0 45.3H94M26.5 45.3V68M77.2 45.3V68"/><text class="c" x="47" y="16.5">pub_dbxref</text><text x="4" y="39">...</text><text x="4" y="62">&lt; 2</text><text class="r" x="73.2" y="62">0 rows</text></g>
<g id="nd_reagent_relationship" transform="translate(650,1061)"><rect class="h" width="167" height="22.7"/><rect class="w" y="22.7" width="167" height="45.3"/><path class="l" d="M0 45.3H167M63 45.3V68M135.6 45.3V68"/><text class="c" x="83.5" y="16.5">nd_reagent_relationship</text><text x="4" y="39">...</text><text x="4" y="62">&lt; 3</text><text class="r" x="131.6" y="62">0 rows</text></g>
<g id="nd_reagentprop" transform="translate(679,1158)"><rect class="h" width="110" height="22.7"/><rect class="w" y="22.7" width="110" height="45.3"/><path class="l" d="M0 45.3H110M34.5 45.3V68M90 45.3V68"/><text class="c" x="55" y="16.5">nd_reagentprop</text><text x="4" y="39">...</text><text x="4" y="62">&lt; 2</text><text class="r" x="86" y="62">0 rows</text></g>
<g id="nd_protocol_reagent" transform="translate(662,1254)"><rect class="h" width="143" height="22.7"/><rect class="w" y="22.7" width="143" height="45.3"/><path class="l" d="M0 45.3H143M51 45.3V68M116.4 45.3V68"/><text class="c" x="71.5" y="16.5">nd_protocol_reagent</text><text x="4" y="39">...</text><text x="4" y="62">&lt; 3</text><text class="r" x="112.4" y="62">0 rows</text></g>
<g id="nd_protocolprop" transform="translate(678,1351)"><rect class="h" width="112" height="22.7"/><rect class="w" y="22.7" width="112" height="45.3"/><path class="l" d="M0 45.3H112M35.5 45.3V68M91.6 45.3V68"/><text class="c" x="56" y="16.5">nd_protocolprop</text><text x="4" y="39">...</text><text x="4" y="62">&lt; 2</text><text class="r" x="87.6" y="62">0 rows</text></g>
<g id="phylonode" transform="translate(680,1483)"><rect class="h" width="107" height="22.7"/><rect class="w" y="22.7" width="107" height="45.3"/><path class="l" d="M0 45.3H107M27.5 45.3V68M78.8 45.3V68"/><text class="c" x="53.5" y="16.5">phylonode</text><text x="4" y="39">...</text><text x="4" y="62">&lt; 4</text><text class="r" x="74.8" y="62">0 rows</text><text class="r" x="103" y="62">7 &gt;</text></g>
<g id="phylotree_pub" transform="translate(684,1579)"><rect class="h" width="100" height="22.7"/><rect class="w" y="22.7" width="100" height="45.3"/><path class="l" d="M0 45.3H100M29.5 45.3V68M82 45.3V68"/><text class="c" x="50" y="16.5">phylotree_pub</text><text x="4" y="39">...</text><text x="4" y="62">&lt; 2</text><text class="r" x="78" y="62">0 rows</text></g>
<g id="frange_featuregroup" transform="translate(665,1713)"><rect class="h" width="138" height="22.7"/><rect class="w" y="22.7" width="138" height="45.3"/><path class="l" d="M0 45.3H138M48.5 45.3V68M112.4 45.3V68"/><text class="c" x="69" y="16.5">frange.featuregroup</text><text x="4" y="39">...</text><text x="4" y="62">&lt; 4</text><text class="r" x="108.4" y="62">0 rows</text></g>
<g id="featurerange" transform="translate(687,1846)"><rect class="h" width="94" height="22.7"/><rect class="w" y="22.7" width="94" height="45.3"/><path class="l" d="M0 45.3H94M26.5 45.3V68M77.2 45.3V68"/><text class="c" x="47" y="16.5">featurerange</text><text x="4" y="39">...</text><text x="4" y="62">&lt; 6</text><text class="r" x="73.2" y="62">0 rows</text></g>
<g id="featurepos" transform="translate(687,1942)"><rect class="h" width="94" height="22.7"/><rect class="w" y="22.7" width="94" height="45.3"/><path class="l" d="M0 45.3H94M26.5 45.3V68M77.2 45.3V68"/><text class="c" x="47" y="16.5">featurepos</text><text x="4" y="39">...</text><text x="4" y="62">&lt; 3</text><text class="r" x="73.2" y="62">0 rows</text></g>
<g id="protocol" transform="translate(680,2075)"><rect class="h" width="107" height="22.7"/><rect class="w" y="22.7" width="107" height="45.3"/><path class="l" d="M0 45.3H107M27.5 45.3V68M78.8 45.3V68"/><text class="c" x="53.5" y="16.5">protocol</text><text x="4" y="39">...</text><text x="4" y="62">&lt; 3</text><text class="r" x="74.8" y="62">0 rows</text><text class="r" x="103" y="62">6 &gt;</text></g>
<g id="featureloc" transform="translate(680,2171)"><rect class="h" width="107" height="22.7"/><rect class="w" y="22.7" width="107" height="45.3"/><path class="l" d="M0 45.3H107M27.5 45.3V68M78.8 45.3V68"/><text class="c" x="53.5" y="16.5">featureloc</text><text x="4" y="39">...</text><text x="4" y="62">&lt; 2</text><text class="r" x="74.8" y="62">0 rows</text><text class="r" x="103" y="62">1 &gt;</text></g>
<g id="library_feature" transform="translate(683,2321)"><rect class="h" width="101" height="22.7"/><rect class="w" y="22.7" width="101" height="45.3"/><path class="l" d="M0 45.3H101M30 45.3V68M82.8 45.3V68"/><text class="c" x="50.5" y="16.5">library_feature</text><text x="4" y="39">...</text><text x="4" y="62">&lt; 2</text><text class="r" x="78.8" y="62">0 rows</text></g>
<g id="feature_relationship" transform="translate(665,2489)"><rect class="h" width="138" height="22.7"/><rect class="w" y="22.7" width="138" height="45.3"/><path class="l" d="M0 45.3H138M43 45.3V68M103.6 45.3V68"/><text class="c" x="69" y="16.5">feature_relationship</text><text x="4" y="39">...</text><text x="4" y="62">&lt; 3</text><text class="r" x="99.6" y="62">0 rows</text><text class="r" x="134" y="62">2 &gt;</text></g>
<g id="feature_expression" transform="translate(667,2586)"><rect class="h" width="134" height="22.7"/><rect class="w" y="22.7" width="134" height="45.3"/><path class="l" d="M0 45.3H134M41 45.3V68M100.4 45.3V68"/><text class="c" x="67" y="16.5">feature_expression</text><text x="4" y="39">...</text><text x="4" y="62">&lt; 3</text><text class="r" x="96.4" y="62">0 rows</text><text class="r" x="130" y="62">1 &gt;</text></g>
<g id="feature_pub" transform="translate(680,2755)"><rect class="h" width="107" height="22.7"/><rect class="w" y="22.7" width="107" height="45.3"/><path class="l" d="M0 45.3H107M27.5 45.3V68M78.8 45.3V68"/><text class="c" x="53.5" y="16.5">feature_pub</text><text x="4" y="39">...</text><text x="4" y="62">&lt; 2</text><text class="r" x="74.8" y="62">0 rows</text><text class="r" x="103" y="62">1 &gt;</text></g>
<g id="feature_cvterm" transform="translate(635,2888)"><rect class="h" width="196" height="22.7"/><rect class="k" y="22.7" width="129" height="22.7"/><rect class="i" y="45.3" width="129" height="22.7"/><rect class="i" y="68" width="129" height="22.7"/><rect class="i" y="90.7" width="129" height="22.7"/><rect class="w" y="113.3" width="129" height="22.7"/><rect class="i" y="136" width="129" height="22.7"/><rect class="w" x="129" y="22.7" width="67" height="22.7"/><rect class="w" x="129" y="45.3" width="67" height="22.7"/><rect class="w" x="129" y="68" width="67" height="22.7"/><rect class="w" x="129" y="90.7" width="67" height="22.7"/><rect class="w" x="129" y="113.3" width="67" height="22.7"/><rect class="w" x="129" y="136" width="67" height="22.7"/><rect class="w" y="158.7" width="196" height="22.7"/><path class="l" d="M52 158.7V181.3M129 158.7V181.3"/><rect width="196" height="181.3" fill="none" stroke="#000" stroke-width="3"/><text class="c" x="98" y="16.5">feature_cvterm</text><text x="4" y="39.2">feature_cvterm_id</text><text x="4" y="61.8">feature_id</text><text x="4" y="84.5">cvterm_id</text><text x="4" y="107.2">pub_id</text><text x="4" y="129.8">is_not</text><text x="4" y="152.5">rank</text><text x="133" y="39.2">serial[10]</text><text x="133" y="61.8">int4[10]</text><text x="133" y="84.5">int4[10]</text><text x="133" y="107.2">int4[10]</text><text x="133" y="129.8">bool[1]</text><text x="133" y="152.5">int4[10]</text><text x="4" y="175.2">&lt; 3</text><text class="r" x="125" y="175.2">0 rows</text><text class="r" x="192" y="175.2">3 &gt;</text></g>
<g id="analysisfeature" transform="translate(680,3103)"><rect class="h" width="107" height="22.7"/><rect class="w" y="22.7" width="107" height="45.3"/><path class="l" d="M0 45.3H107M27.5 45.3V68M78.8 45.3V68"/><text class="c" x="53.5" y="16.5">analysisfeature</text><text x="4" y="39">...</text><text x="4" y="62">&lt; 2</text><text class="r" x="74.8" y="62">0 rows</text><text class="r" x="103" y="62">1 &gt;</text></g>
<g id="feature_synonym" transform="translate(673,3199)"><rect class="h" width="120" height="22.7"/><rect class="w" y="22.7" width="120" height="45.3"/><path class="l" d="M0 45.3H120M39.5 45.3V68M98 45.3V68"/><text class="c" x="60" y="16.5">feature_synonym</text><text x="4" y="39">...</text><text x="4" y="62">&lt; 3</text><text class="r" x="94" y="62">0 rows</text></g>
<g id="cell_line_feature" transform="translate(676,3295)"><rect class="h" width="115" height="22.7"/><rect class="w" y="22.7" width="115" height="45.3"/><path class="l" d="M0 45.3H115M37 45.3V68M94 45.3V68"/><text class="c" x="57.5" y="16.5">cell_line_feature</text><text x="4" y="39">...</text><text x="4" y="62">&lt; 3</text><text class="r" x="90" y="62">0 rows</text></g>
<g id="featuremap_pub" transform="translate(676,3391)"><rect class="h" width="115" height="22.7"/><rect class="w" y="22.7" width="115" height="45.3"/><path class="l" d="M0 45.3H115M37 45.3V68M94 45.3V68"/><text class="c" x="57.5" y="16.5">featuremap_pub</text><text x="4" y="39">...</text><text x="4" y="62">&lt; 2</text><text class="r" x="90" y="62">0 rows</text></g>
<g id="cell_line_synonym" transform="translate(671,3487)"><rect class="h" width="126" height="22.7"/><rect class="w" y="22.7" width="126" height="45.3"/><path class="l" d="M0 45.3H126M42.5 45.3V68M102.8 45.3V68"/><text class="c" x="63" y="16.5">cell_line_synonym</text><text x="4" y="39">...</text><text x="4" y="62">&lt; 3</text><text class="r" x="98.8" y="62">0 rows</text></g>
<g id="library_synonym" transform="translate(676,3583)"><rect class="h" width="115" height="22.7"/><rect class="w" y="22.7" width="115" height="45.3"/><path class="l" d="M0 45.3H115M37 45.3V68M94 45.3V68"/><text class="c" x="57.5" y="16.5">library_synonym</text><text x="4" y="39">...</text><text x="4" y="62">&lt; 3</text><text class="r" x="90" y="62">0 rows</text></g>
<g id="cell_line_library" transform="translate(680,3679)"><rect class="h" width="108" height="22.7"/><rect class="w" y="22.7" width="108" height="45.3"/><path class="l" d="M0 45.3H108M33.5 45.3V68M88.4 45.3V68"/><text class="c" x="54" y="16.5">cell_line_library</text><text x="4" y="39">...</text><text x="4" y="62">&lt; 3</text><text class="r" x="84.4" y="62">0 rows</text></g>
<g id="library_pub" transform="translate(687,3775)"><rect class="h" width="94" height="22.7"/><rect class="w" y="22.7" width="94" height="45.3"/><path class="l" d="M0 45.3H94M26.5 45.3V68M77.2 45.3V68"/><text class="c" x="47" y="16.5">library_pub</text><text x="4" y="39">...</text><text x="4" y="62">&lt; 2</text><text class="r" x="73.2" y="62">0 rows</text></g>
<g id="cell_line_cvterm" transform="translate(678,3871)"><rect class="h" width="111" height="22.7"/><rect class="w" y="22.7" width="111" height="45.3"/><path class="l" d="M0 45.3H111M29.5 45.3V68M82 45.3V68"/><text class="c" x="55.5" y="16.5">cell_line_cvterm</text><text x="4" y="39">...</text><text x="4" y="62">&lt; 3</text><text class="r" x="78" y="62">0 rows</text><text class="r" x="107" y="62">1 &gt;</text></g>
<g id="cell_lineprop_pub" transform="translate(672,4041)"><rect class="h" width="122" height="22.7"/><rect class="w" y="22.7" width="122" height="45.3"/><path class="l" d="M0 45.3H122M40.5 45.3V68M99.6 45.3V68"/><text class="c" x="61" y="16.5">cell_lineprop_pub</text><text x="4" y="39">...</text><text x="4" y="62">&lt; 2</text><text class="r" x="95.6" y="62">0 rows</text></g>
<g id="expression_pub" transform="translate(679,4210)"><rect class="h" width="110" height="22.7"/><rect class="w" y="22.7" width="110" height="45.3"/><path class="l" d="M0 45.3H110M34.5 45.3V68M90 45.3V68"/><text class="c" x="55" y="16.5">expression_pub</text><text x="4" y="39">...</text><text x="4" y="62">&lt; 2</text><text class="r" x="86" y="62">0 rows</text></g>
<g id="pubauthor" transform="translate(687,4343)"><rect class="h" width="94" height="22.7"/><rect class="w" y="22.7" width="94" height="45.3"/><path class="l" d="M0 45.3H94M26.5 45.3V68M77.2 45.3V68"/><text class="c" x="47" y="16.5">pubauthor</text><text x="4" y="39">...</text><text x="4" y="62">&lt; 1</text><text class="r" x="73.2" y="62">0 rows</text></g>
<g id="libraryprop" transform="translate(680,4585)"><rect class="h" width="107" height="22.7"/><rect class="w" y="22.7" width="107" height="45.3"/><path class="l" d="M0 45.3H107M27.5 45.3V68M78.8 45.3V68"/><text class="c" x="53.5" y="16.5">libraryprop</text><text x="4" y="39">...</text><text x="4" y="62">&lt; 2</text><text class="r" x="74.8" y="62">0 rows</text><text class="r" x="103" y="62">1 &gt;</text></g>
<g id="project_pub" transform="translate(687,4718)"><rect class="h" width="94" height="22.7"/><rect class="w" y="22.7" width="94" height="45.3"/><path class="l" d="M0 45.3H94M26.5 45.3V68M77.2 45.3V68"/><text class="c" x="47" y="16.5">project_pub</text><text x="4" y="39">...</text><text x="4" y="62">&lt; 2</text><text class="r" x="73.2" y="62">0 rows</text></g>
<g id="stock_pub" transform="translate(687,4851)"><rect class="h" width="94" height="22.7"/><rect class="w" y="22.7" width="94" height="45.3"/><path class="l" d="M0 45.3H94M26.5 45.3V68M77.2 45.3V68"/><text class="c" x="47" y="16.5">stock_pub</text><text x="4" y="39">...</text><text x="4" y="62">&lt; 2</text><text class="r" x="73.2" y="62">0 rows</text></g>
<g id="stock_relationship" transform="translate(671,4947)"><rect class="h" width="125" height="22.7"/><rect class="w" y="22.7" width="125" height="45.3"/><path class="l" d="M0 45.3H125M36.5 45.3V68M93.2 45.3V68"/><text class="c" x="62.5" y="16.5">stock_relationship</text><text x="4" y="39">...</text><text x="4" y="62">&lt; 3</text><text class="r" x="89.2" y="62">0 rows</text><text class="r" x="121" y="62">2 &gt;</text></g>
<g id="stockprop" transform="translate(680,5043)"><rect class="h" width="107" height="22.7"/><rect class="w" y="22.7" width="107" height="45.3"/><path class="l" d="M0 45.3H107M27.5 45.3V68M78.8 45.3V68"/><text class="c" x="53.5" y="16.5">stockprop</text><text x="4" y="39">...</text><text x="4" y="62">&lt; 2</text><text class="r" x="74.8" y="62">0 rows</text><text class="r" x="103" y="62">1 &gt;</text></g>
<g id="featureprop" transform="translate(680,5139)"><rect class="h" width="107" height="22.7"/><rect class="w" y="22.7" width="107" height="45.3"/><path class="l" d="M0 45.3H107M27.5 45.3V68M78.8 45.3V68"/><text class="c" x="53.5" y="16.5">featureprop</text><text x="4" y="39">...</text><text x="4" y="62">&lt; 2</text><text class="r" x="74.8" y="62">0 rows</text><text class="r" x="103" y="62">1 &gt;</text></g>
<g id="cell_line_pub" transform="translate(687,5272)"><rect class="h" width="94" height="22.7"/><rect class="w" y="22.7" width="94" height="45.3"/><path class="l" d="M0 45.3H94M26.5 45.3V68M77.2 45.3V68"/><text class="c" x="47" y="16.5">cell_line_pub</text><text x="4" y="39">...</text><text x="4" y="62">&lt; 2</text><text class="r" x="73.2" y="62">0 rows</text></g>
<g id="feature_genotype" transform="translate(673,5369)"><rect class="h" width="121" height="22.7"/><rect class="w" y="22.7" width="121" height="45.3"/><path class="l" d="M0 45.3H121M40 45.3V68M98.8 45.3V68"/><text class="c" x="60.5" y="16.5">feature_genotype</text><text x="4" y="39">...</text><text x="4" y="62">&lt; 4</text><text class="r" x="94.8" y="62">0 rows</text></g>
<g id="library_cvterm" transform="translate(684,5538)"><rect class="h" width="100" height="22.7"/><rect class="w" y="22.7" width="100" height="45.3"/><path class="l" d="M0 45.3H100M29.5 45.3V68M82 45.3V68"/><text class="c" x="50" y="16.5">library_cvterm</text><text x="4" y="39">...</text><text x="4" y="62">&lt; 3</text><text class="r" x="78" y="62">0 rows</text></g>
<g id="feature_phenotype" transform="translate(669,5634)"><rect class="h" width="129" height="22.7"/><rect class="w" y="22.7" width="129" height="45.3"/><path class="l" d="M0 45.3H129M44 45.3V68M105.2 45.3V68"/><text class="c" x="64.5" y="16.5">feature_phenotype</text><text x="4" y="39">...</text><text x="4" y="62">&lt; 2</text><text class="r" x="101.2" y="62">0 rows</text></g>
<g id="pub_relationship" transform="translate(676,5730)"><rect class="h" width="114" height="22.7"/><rect class="w" y="22.7" width="114" height="45.3"/><path class="l" d="M0 45.3H114M36.5 45.3V68M93.2 45.3V68"/><text class="c" x="57" y="16.5">pub_relationship</text><text x="4" y="39">...</text><text x="4" y="62">&lt; 3</text><text class="r" x="89.2" y="62">0 rows</text></g>
<g id="stock_cvterm" transform="translate(680,5826)"><rect class="h" width="107" height="22.7"/><rect class="w" y="22.7" width="107" height="45.3"/><path class="l" d="M0 45.3H107M27.5 45.3V68M78.8 45.3V68"/><text class="c" x="53.5" y="16.5">stock_cvterm</text><text x="4" y="39">...</text><text x="4" y="62">&lt; 3</text><text class="r" x="74.8" y="62">0 rows</text><text class="r" x="103" y="62">1 &gt;</text></g>
<g id="pubprop" transform="translate(687,5922)"><rect class="h" width="94" height="22.7"/><rect class="w" y="22.7" width="94" height="45.3"/><path class="l" d="M0 45.3H94M26.5 45.3V68M77.2 45.3V68"/><text class="c" x="47" y="16.5">pubprop</text><text x="4" y="39">...</text><text x="4" y="62">&lt; 2</text><text class="r" x="73.2" y="62">0 rows</text></g>
<g id="nd_experiment_pub" transform="translate(665,6055)"><rect class="h" width="138" height="22.7"/><rect class="w" y="22.7" width="138" height="45.3"/><path class="l" d="M0 45.3H138M48.5 45.3V68M112.4 45.3V68"/><text class="c" x="69" y="16.5">nd_experiment_pub</text><text x="4" y="39">...</text><text x="4" y="62">&lt; 2</text><text class="r" x="108.4" y="62">0 rows</text></g>
<g id="nd_experiment_stock" transform="translate(660,6189)"><rect class="h" width="147" height="22.7"/><rect class="w" y="22.7" width="147" height="45.3"/><path class="l" d="M0 45.3H147M47.5 45.3V68M110.8 45.3V68"/><text class="c" x="73.5" y="16.5">nd_experiment_stock</text><text x="4" y="39">...</text><text x="4" y="62">&lt; 3</text><text class="r" x="106.8" y="62">0 rows</text><text class="r" x="143" y="62">2 &gt;</text></g>
<g id="nd_experimentprop" transform="translate(666,6284)"><rect class="h" width="136" height="22.7"/><rect class="w" y="22.7" width="136" height="45.3"/><path class="l" d="M0 45.3H136M47.5 45.3V68M110.8 45.3V68"/><text class="c" x="68" y="16.5">nd_experimentprop</text><text x="4" y="39">...</text><text x="4" y="62">&lt; 2</text><text class="r" x="106.8" y="62">0 rows</text></g>
<g id="phendesc" transform="translate(687,6380)"><rect class="h" width="94" height="22.7"/><rect class="w" y="22.7" width="94" height="45.3"/><path class="l" d="M0 45.3H94M26.5 45.3V68M77.2 45.3V68"/><text class="c" x="47" y="16.5">phendesc</text><text x="4" y="39">...</text><text x="4" y="62">&lt; 4</text><text class="r" x="73.2" y="62">0 rows</text></g>
<g id="genotypeprop" transform="translate(685,6476)"><rect class="h" width="98" height="22.7"/><rect class="w" y="22.7" width="98" height="45.3"/><path class="l" d="M0 45.3H98M28.5 45.3V68M80.4 45.3V68"/><text class="c" x="49" y="16.5">genotypeprop</text><text x="4" y="39">...</text><text x="4" y="62">&lt; 2</text><text class="r" x="76.4" y="62">0 rows</text></g>
<g id="phenstatement" transform="translate(681,6572)"><rect class="h" width="105" height="22.7"/><rect class="w" y="22.7" width="105" height="45.3"/><path class="l" d="M0 45.3H105M32 45.3V68M86 45.3V68"/><text class="c" x="52.5" y="16.5">phenstatement</text><text x="4" y="39">...</text><text x="4" y="62">&lt; 5</text><text class="r" x="82" y="62">0 rows</text></g>
<g id="phenotype_comparison" transform="translate(654,6706)"><rect class="h" width="159" height="22.7"/><rect class="w" y="22.7" width="159" height="45.3"/><path class="l" d="M0 45.3H159M53.5 45.3V68M120.4 45.3V68"/><text class="c" x="79.5" y="16.5">phenotype_comparison</text><text x="4" y="39">...</text><text x="4" y="62">&lt; 8</text><text class="r" x="116.4" y="62">0 rows</text><text class="r" x="155" y="62">1 &gt;</text></g>
<g id="phenotype_cvterm" transform="translate(669,6802)"><rect class="h" width="128" height="22.7"/><rect class="w" y="22.7" width="128" height="45.3"/><path class="l" d="M0 45.3H128M43.5 45.3V68M104.4 45.3V68"/><text class="c" x="64" y="16.5">phenotype_cvterm</text><text x="4" y="39">...</text><text x="4" y="62">&lt; 2</text><text class="r" x="100.4" y="62">0 rows</text></g>
<g id="expression_cvtermprop" transform="translate(654,7639)"><rect class="h" width="159" height="22.7"/><rect class="w" y="22.7" width="159" height="45.3"/><path class="l" d="M0 45.3H159M59 45.3V68M129.2 45.3V68"/><text class="c" x="79.5" y="16.5">expression_cvtermprop</text><text x="4" y="39">...</text><text x="4" y="62">&lt; 2</text><text class="r" x="125.2" y="62">0 rows</text></g>
<g id="stockcollectionprop" transform="translate(937,337)"><rect class="h" width="133" height="22.7"/><rect class="w" y="22.7" width="133" height="45.3"/><path class="l" d="M0 45.3H133M46 45.3V68M108.4 45.3V68"/><text class="c" x="66.5" y="16.5">stockcollectionprop</text><text x="4" y="39">...</text><text x="4" y="62">&lt; 2</text><text class="r" x="104.4" y="62">0 rows</text></g>
<g id="studyprop" transform="translate(950,469)"><rect class="h" width="107" height="22.7"/><rect class="w" y="22.7" width="107" height="45.3"/><path class="l" d="M0 45.3H107M27.5 45.3V68M78.8 45.3V68"/><text class="c" x="53.5" y="16.5">studyprop</text><text x="4" y="39">...</text><text x="4" y="62">&lt; 2</text><text class="r" x="74.8" y="62">0 rows</text><text class="r" x="103" y="62">1 &gt;</text></g>
<g id="arraydesign" transform="translate(950,770)"><rect class="h" width="107" height="22.7"/><rect class="w" y="22.7" width="107" height="45.3"/><path class="l" d="M0 45.3H107M27.5 45.3V68M78.8 45.3V68"/><text class="c" x="53.5" y="16.5">arraydesign</text><text x="4" y="39">...</text><text x="4" y="62">&lt; 5</text><text class="r" x="74.8" y="62">0 rows</text><text class="r" x="103" y="62">3 &gt;</text></g>
<g id="phylonode_relationship" transform="translate(925,1422)"><rect class="h" width="159" height="22.7"/><rect class="w" y="22.7" width="159" height="45.3"/><path class="l" d="M0 45.3H159M59 45.3V68M129.2 45.3V68"/><text class="c" x="79.5" y="16.5">phylonode_relationship</text><text x="4" y="39">...</text><text x="4" y="62">&lt; 4</text><text class="r" x="125.2" y="62">0 rows</text></g>
<g id="feature_cvterm_dbxref" transform="translate(916,1528)"><rect class="h" width="174" height="22.7"/><rect class="k" y="22.7" width="174" height="22.7"/><rect class="i" y="45.3" width="174" height="22.7"/><rect class="i" y="68" width="174" height="22.7"/><rect class="w" y="90.7" width="174" height="22.7"/><path class="l" d="M66.5 90.7V113.3M141.2 90.7V113.3"/><text class="c" x="87" y="16.5">feature_cvterm_dbxref</text><text x="4" y="39.2">feature_cvterm_dbxref_id</text><text x="4" y="61.8">feature_cvterm_id</text><text x="4" y="84.5">dbxref_id</text><text x="4" y="107.2">&lt; 2</text><text class="r" x="137.2" y="107.2">0 rows</text></g>
<g id="treatment" transform="translate(950,2075)"><rect class="h" width="107" height="22.7"/><rect class="w" y="22.7" width="107" height="45.3"/><path class="l" d="M0 45.3H107M27.5 45.3V68M78.8 45.3V68"/><text class="c" x="53.5" y="16.5">treatment</text><text x="4" y="39">...</text><text x="4" y="62">&lt; 3</text><text class="r" x="74.8" y="62">0 rows</text><text class="r" x="103" y="62">1 &gt;</text></g>
<g id="protocolparam" transform="translate(953,2224)"><rect class="h" width="101" height="22.7"/><rect class="w" y="22.7" width="101" height="45.3"/><path class="l" d="M0 45.3H101M30 45.3V68M82.8 45.3V68"/><text class="c" x="50.5" y="16.5">protocolparam</text><text x="4" y="39">...</text><text x="4" y="62">&lt; 3</text><text class="r" x="78.8" y="62">0 rows</text></g>
<g id="phylonode_pub" transform="translate(950,2320)"><rect class="h" width="108" height="22.7"/><rect class="w" y="22.7" width="108" height="45.3"/><path class="l" d="M0 45.3H108M33.5 45.3V68M88.4 45.3V68"/><text class="c" x="54" y="16.5">phylonode_pub</text><text x="4" y="39">...</text><text x="4" y="62">&lt; 2</text><text class="r" x="84.4" y="62">0 rows</text></g>
<g id="featureloc_pub" transform="translate(952,2454)"><rect class="h" width="104" height="22.7"/><rect class="w" y="22.7" width="104" height="45.3"/><path class="l" d="M0 45.3H104M31.5 45.3V68M85.2 45.3V68"/><text class="c" x="52" y="16.5">featureloc_pub</text><text x="4" y="39">...</text><text x="4" y="62">&lt; 2</text><text class="r" x="81.2" y="62">0 rows</text></g>
<g id="feature_expressionprop" transform="translate(923,2550)"><rect class="h" width="162" height="22.7"/><rect class="w" y="22.7" width="162" height="45.3"/><path class="l" d="M0 45.3H162M60.5 45.3V68M131.6 45.3V68"/><text class="c" x="81" y="16.5">feature_expressionprop</text><text x="4" y="39">...</text><text x="4" y="62">&lt; 2</text><text class="r" x="127.6" y="62">0 rows</text></g>
<g id="phylonodeprop" transform="translate(951,2646)"><rect class="h" width="105" height="22.7"/><rect class="w" y="22.7" width="105" height="45.3"/><path class="l" d="M0 45.3H105M32 45.3V68M86 45.3V68"/><text class="c" x="52.5" y="16.5">phylonodeprop</text><text x="4" y="39">...</text><text x="4" y="62">&lt; 2</text><text class="r" x="82" y="62">0 rows</text></g>
<g id="feature_relationshipprop" transform="translate(920,2741)"><rect class="h" width="166" height="22.7"/><rect class="w" y="22.7" width="166" height="45.3"/><path class="l" d="M0 45.3H166M57 45.3V68M126 45.3V68"/><text class="c" x="83" y="16.5">feature_relationshipprop</text><text x="4" y="39">...</text><text x="4" y="62">&lt; 2</text><text class="r" x="122" y="62">0 rows</text><text class="r" x="162" y="62">1 &gt;</text></g>
<g id="feature_pubprop" transform="translate(946,2838)"><rect class="h" width="114" height="22.7"/><rect class="w" y="22.7" width="114" height="45.3"/><path class="l" d="M0 45.3H114M36.5 45.3V68M93.2 45.3V68"/><text class="c" x="57" y="16.5">feature_pubprop</text><text x="4" y="39">...</text><text x="4" y="62">&lt; 2</text><text class="r" x="89.2" y="62">0 rows</text></g>
<g id="feature_relationship_pub" transform="translate(919,3134)"><rect class="h" width="169" height="22.7"/><rect class="w" y="22.7" width="169" height="45.3"/><path class="l" d="M0 45.3H169M64 45.3V68M137.2 45.3V68"/><text class="c" x="84.5" y="16.5">feature_relationship_pub</text><text x="4" y="39">...</text><text x="4" y="62">&lt; 2</text><text class="r" x="133.2" y="62">0 rows</text></g>
<g id="cell_line_cvtermprop" transform="translate(933,3629)"><rect class="h" width="141" height="22.7"/><rect class="w" y="22.7" width="141" height="45.3"/><path class="l" d="M0 45.3H141M50 45.3V68M114.8 45.3V68"/><text class="c" x="70.5" y="16.5">cell_line_cvtermprop</text><text x="4" y="39">...</text><text x="4" y="62">&lt; 2</text><text class="r" x="110.8" y="62">0 rows</text></g>
<g id="feature_cvtermprop" transform="translate(926,3830)"><rect class="h" width="155" height="22.7"/><rect class="k" y="22.7" width="155" height="22.7"/><rect class="i" y="45.3" width="155" height="22.7"/><rect class="i" y="68" width="155" height="22.7"/><rect class="w" y="90.7" width="155" height="22.7"/><rect class="i" y="113.3" width="155" height="22.7"/><rect class="w" y="136" width="155" height="22.7"/><path class="l" d="M57 136V158.7M126 136V158.7"/><text class="c" x="77.5" y="16.5">feature_cvtermprop</text><text x="4" y="39.2">feature_cvtermprop_id</text><text x="4" y="61.8">feature_cvterm_id</text><text x="4" y="84.5">type_id</text><text x="4" y="107.2">value</text><text x="4" y="129.8">rank</text><text x="4" y="152.5">&lt; 2</text><text class="r" x="122" y="152.5">0 rows</text></g>
<g id="feature_cvterm_pub" transform="translate(925,4034)"><rect class="h" width="157" height="22.7"/><rect class="k" y="22.7" width="157" height="22.7"/><rect class="i" y="45.3" width="157" height="22.7"/><rect class="i" y="68" width="157" height="22.7"/><rect class="w" y="90.7" width="157" height="22.7"/><path class="l" d="M58 90.7V113.3M127.6 90.7V113.3"/><text class="c" x="78.5" y="16.5">feature_cvterm_pub</text><text x="4" y="39.2">feature_cvterm_pub_id</text><text x="4" y="61.8">feature_cvterm_id</text><text x="4" y="84.5">pub_id</text><text x="4" y="107.2">&lt; 2</text><text class="r" x="123.6" y="107.2">0 rows</text></g>
<g id="analysisfeatureprop" transform="translate(935,4210)"><rect class="h" width="136" height="22.7"/><rect class="w" y="22.7" width="136" height="45.3"/><path class="l" d="M0 45.3H136M47.5 45.3V68M110.8 45.3V68"/><text class="c" x="68" y="16.5">analysisfeatureprop</text><text x="4" y="39">...</text><text x="4" y="62">&lt; 2</text><text class="r" x="106.8" y="62">0 rows</text></g>
<g id="stock_relationship_pub" transform="translate(925,4374)"><rect class="h" width="157" height="22.7"/><rect class="w" y="22.7" width="157" height="45.3"/><path class="l" d="M0 45.3H157M58 45.3V68M127.6 45.3V68"/><text class="c" x="78.5" y="16.5">stock_relationship_pub</text><text x="4" y="39">...</text><text x="4" y="62">&lt; 2</text><text class="r" x="123.6" y="62">0 rows</text></g>
<g id="libraryprop_pub" transform="translate(949,4551)"><rect class="h" width="109" height="22.7"/><rect class="w" y="22.7" width="109" height="45.3"/><path class="l" d="M0 45.3H109M34 45.3V68M89.2 45.3V68"/><text class="c" x="54.5" y="16.5">libraryprop_pub</text><text x="4" y="39">...</text><text x="4" y="62">&lt; 2</text><text class="r" x="85.2" y="62">0 rows</text></g>
<g id="stockprop_pub" transform="translate(951,4766)"><rect class="h" width="105" height="22.7"/><rect class="w" y="22.7" width="105" height="45.3"/><path class="l" d="M0 45.3H105M32 45.3V68M86 45.3V68"/><text class="c" x="52.5" y="16.5">stockprop_pub</text><text x="4" y="39">...</text><text x="4" y="62">&lt; 2</text><text class="r" x="82" y="62">0 rows</text></g>
<g id="featureprop_pub" transform="translate(946,4946)"><rect class="h" width="114" height="22.7"/><rect class="w" y="22.7" width="114" height="45.3"/><path class="l" d="M0 45.3H114M36.5 45.3V68M93.2 45.3V68"/><text class="c" x="57" y="16.5">featureprop_pub</text><text x="4" y="39">...</text><text x="4" y="62">&lt; 2</text><text class="r" x="89.2" y="62">0 rows</text></g>
<g id="stock_relationship_cvterm" transform="translate(915,5205)"><rect class="h" width="177" height="22.7"/><rect class="w" y="22.7" width="177" height="45.3"/><path class="l" d="M0 45.3H177M68 45.3V68M143.6 45.3V68"/><text class="c" x="88.5" y="16.5">stock_relationship_cvterm</text><text x="4" y="39">...</text><text x="4" y="62">&lt; 3</text><text class="r" x="139.6" y="62">0 rows</text></g>
<g id="stock_cvtermprop" transform="translate(942,5974)"><rect class="h" width="122" height="22.7"/><rect class="w" y="22.7" width="122" height="45.3"/><path class="l" d="M0 45.3H122M40.5 45.3V68M99.6 45.3V68"/><text class="c" x="61" y="16.5">stock_cvtermprop</text><text x="4" y="39">...</text><text x="4" y="62">&lt; 2</text><text class="r" x="95.6" y="62">0 rows</text></g>
<g id="nd_experiment_stockprop" transform="translate(915,6414)"><rect class="h" width="176" height="22.7"/><rect class="w" y="22.7" width="176" height="45.3"/><path class="l" d="M0 45.3H176M67.5 45.3V68M142.8 45.3V68"/><text class="c" x="88" y="16.5">nd_experiment_stockprop</text><text x="4" y="39">...</text><text x="4" y="62">&lt; 2</text><text class="r" x="138.8" y="62">0 rows</text></g>
<g id="phenotype_comparison_cvterm" transform="translate(898,6706)"><rect class="h" width="212" height="22.7"/><rect class="w" y="22.7" width="212" height="45.3"/><path class="l" d="M0 45.3H212M85.5 45.3V68M171.6 45.3V68"/><text class="c" x="106" y="16.5">phenotype_comparison_cvterm</text><text x="4" y="39">...</text><text x="4" y="62">&lt; 3</text><text class="r" x="167.6" y="62">0 rows</text></g>
<g id="studyprop_feature" transform="translate(1211,469)"><rect class="h" width="125" height="22.7"/><rect class="w" y="22.7" width="125" height="45.3"/><path class="l" d="M0 45.3H125M42 45.3V68M102 45.3V68"/><text class="c" x="62.5" y="16.5">studyprop_feature</text><text x="4" y="39">...</text><text x="4" y="62">&lt; 3</text><text class="r" x="98" y="62">0 rows</text></g>
<g id="element" transform="translate(1220,737)"><rect class="h" width="108" height="22.7"/><rect class="w" y="22.7" width="108" height="45.3"/><path class="l" d="M0 45.3H108M28 45.3V68M79.6 45.3V68"/><text class="c" x="54" y="16.5">element</text><text x="4" y="39">...</text><text x="4" y="62">&lt; 4</text><text class="r" x="75.6" y="62">0 rows</text><text class="r" x="104" y="62">3 &gt;</text></g>
<g id="arraydesignprop" transform="translate(1218,833)"><rect class="h" width="113" height="22.7"/><rect class="w" y="22.7" width="113" height="45.3"/><path class="l" d="M0 45.3H113M36 45.3V68M92.4 45.3V68"/><text class="c" x="56.5" y="16.5">arraydesignprop</text><text x="4" y="39">...</text><text x="4" y="62">&lt; 2</text><text class="r" x="88.4" y="62">0 rows</text></g>
<g id="biomaterial_treatment" transform="translate(1199,2230)"><rect class="h" width="150" height="22.7"/><rect class="w" y="22.7" width="150" height="45.3"/><path class="l" d="M0 45.3H150M54.5 45.3V68M122 45.3V68"/><text class="c" x="75" y="16.5">biomaterial_treatment</text><text x="4" y="39">...</text><text x="4" y="62">&lt; 3</text><text class="r" x="118" y="62">0 rows</text></g>
<g id="feature_relationshipprop_pub" transform="translate(1175,4088)"><rect class="h" width="199" height="22.7"/><rect class="w" y="22.7" width="199" height="45.3"/><path class="l" d="M0 45.3H199M79 45.3V68M161.2 45.3V68"/><text class="c" x="99.5" y="16.5">feature_relationshipprop_pub</text><text x="4" y="39">...</text><text x="4" y="62">&lt; 2</text><text class="r" x="157.2" y="62">0 rows</text></g>
<g id="element_relationship" transform="translate(1439,737)"><rect class="h" width="144" height="22.7"/><rect class="w" y="22.7" width="144" height="45.3"/><path class="l" d="M0 45.3H144M51.5 45.3V68M117.2 45.3V68"/><text class="c" x="72" y="16.5">element_relationship</text><text x="4" y="39">...</text><text x="4" y="62">&lt; 3</text><text class="r" x="113.2" y="62">0 rows</text></g>
</g>
<text x="16" y="7972">Generated by SchemaSpy</text>
</svg>
